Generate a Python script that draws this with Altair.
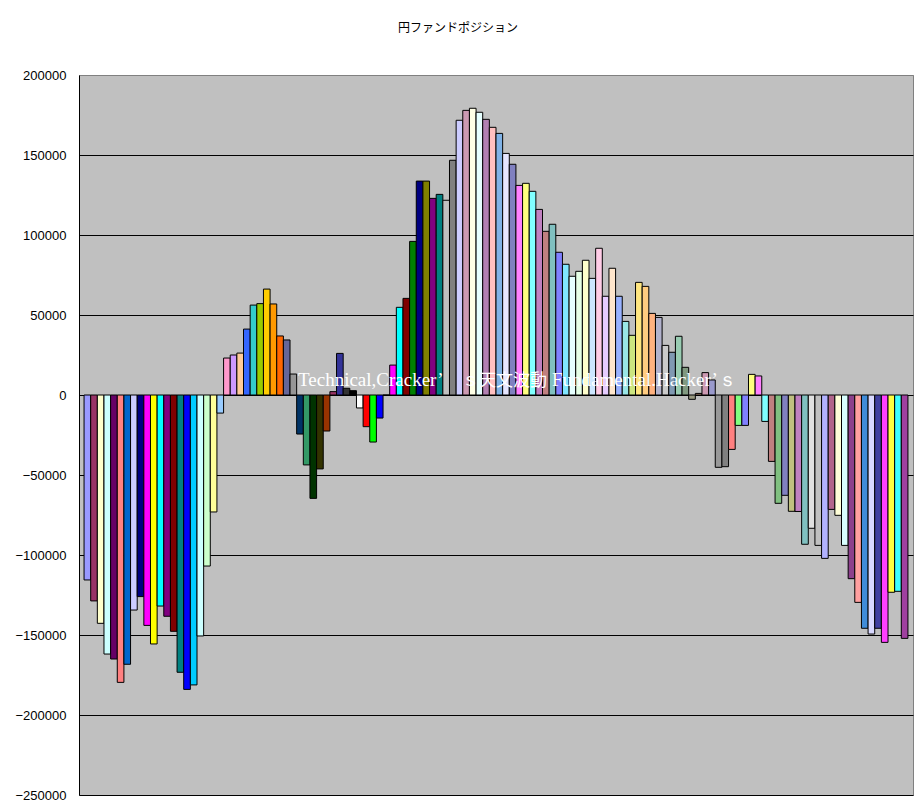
import altair as alt
import pandas as pd

title_text = "円ファンドポジション"
watermark_parts = ["Technical,Cracker’", "ｓ天文波動", "Fundamental.Hacker’ｓ"]

values = [
    -115600, -128700, -142700, -161900, -165000, -179600, -168300, -134400,
    -126000, -144000, -155600, -131900, -138300, -147700, -173300, -184000,
    -181200, -150600, -106900, -73100, -11300, 23100, 25000, 26200,
    41200, 56200, 57100, 66200, 56900, 36900, 34400, 13100,
    -24400, -43700, -64600, -46200, -22500, 2100, 26000, 4200,
    2700, -8100, -19800, -29400, -14400, 0, 18700, 54800,
    60400, 96000, 133700, 133700, 122900, 125400, 121700, 146700,
    171700, 177900, 179200, 176700, 172300, 167300, 163500, 151000,
    144200, 131000, 132300, 127300, 116000, 102300, 106700, 89200,
    81700, 74200, 77300, 84200, 72900, 91700, 61700, 79200,
    61700, 46000, 37300, 70400, 67900, 51000, 48500, 31000,
    26700, 36700, 17300, -2700, 1000, 14000, 9400, -45200,
    -44800, -34000, -19000, -19000, 12900, 11900, -16500, -41500,
    -67700, -62700, -72700, -72800, -93300, -83300, -94000, -102100,
    -71500, -75200, -94000, -114800, -129600, -145800, -149400, -145800,
    -154600, -123300, -122700, -152100,
]

palette = [
    "#9999FF", "#993366", "#FFFFCC", "#CCFFFF", "#660066", "#FF8080", "#0066CC", "#CCCCFF",
    "#000080", "#FF00FF", "#FFFF00", "#00FFFF", "#800080", "#800000", "#008080", "#0000FF",
    "#00CCFF", "#CCFFFF", "#CCFFCC", "#FFFF99", "#99CCFF", "#FF99CC", "#CC99FF", "#FFCC99",
    "#3366FF", "#33CCCC", "#99CC00", "#FFCC00", "#FF9900", "#FF6600", "#666699", "#969696",
    "#003366", "#339966", "#003300", "#333300", "#993300", "#993366", "#333399", "#333333",
    "#000000", "#FFFFFF", "#FF0000", "#00FF00", "#0000FF", "#FFFF00", "#FF00FF", "#00FFFF",
    "#800000", "#008000", "#000080", "#808000", "#800080", "#008080", "#C0C0C0", "#808080",
]

y_ticks = [200000, 150000, 100000, 50000, 0, -50000, -100000, -150000, -200000, -250000]


def blend(hexcol, w):
    r, g, b = int(hexcol[1:3], 16), int(hexcol[3:5], 16), int(hexcol[5:7], 16)
    r = round(r * (1 - w) + 255 * w)
    g = round(g * (1 - w) + 255 * w)
    b = round(b * (1 - w) + 255 * w)
    return "#%02x%02x%02x" % (r, g, b)


# colour sequence: solid palette, checkered palette (white one skipped), dotted palette
colors = list(palette)
colors += [blend(c, 0.5) for c in palette[:41]]
colors += [blend(c, 0.5) for c in palette[42:56]]
colors += [blend(c, 0.25) for c in palette[:13]]
colors = colors[: len(values)]

ids = [f"s{i+1:03d}" for i in range(len(values))]
df = pd.DataFrame({"id": ids, "value": values, "col": colors})

bars = alt.Chart(df).mark_bar(stroke="black", strokeWidth=1).encode(
    x=alt.X("id:N", sort=ids, axis=None,
            scale=alt.Scale(paddingInner=0, paddingOuter=0.76)),
    y=alt.Y("value:Q",
            scale=alt.Scale(domain=[-250000, 200000], nice=False),
            axis=alt.Axis(values=y_ticks, format="d", title=None, ticks=False,
                          labelFont="Liberation Sans", labelFontSize=13,
                          labelColor="black", labelPadding=13,
                          domainColor="black", domainWidth=1,
                          grid=True,
                          gridColor=alt.condition("datum.value == 200000",
                                                  alt.value("#808080"),
                                                  alt.value("black")),
                          gridWidth=1)),
    fill=alt.Fill("col:N", scale=None, legend=None),
)


def wm_text(txt, xpos, font, size):
    return alt.Chart(pd.DataFrame({"t": [txt]})).mark_text(
        align="left", baseline="alphabetic", font=font,
        fontSize=size, color="white"
    ).encode(x=alt.value(xpos), y=alt.value(311), text="t:N")


wm1 = wm_text(watermark_parts[0], 219, "Liberation Serif", 19)
wm2 = wm_text(watermark_parts[1], 383, "Noto Sans CJK JP", 17)
wm3 = wm_text(watermark_parts[2], 473, "Liberation Serif", 19)

ttl = alt.Chart(pd.DataFrame({"t": [title_text]})).mark_text(
    align="center", baseline="alphabetic", font="Noto Sans CJK JP",
    fontSize=12, color="black"
).encode(x=alt.value(379), y=alt.value(-43), text="t:N")

chart = alt.layer(bars, wm1, wm2, wm3, ttl).properties(
    width=834, height=720,
    autosize=alt.AutoSizeParams(type="none"),
    padding={"left": 71, "top": 67, "right": 3, "bottom": 8},
    background="white",
).configure_view(fill="#C0C0C0", stroke="#808080", strokeWidth=1)

chart.save("out.html", embed_options={"renderer": "svg", "actions": False})
